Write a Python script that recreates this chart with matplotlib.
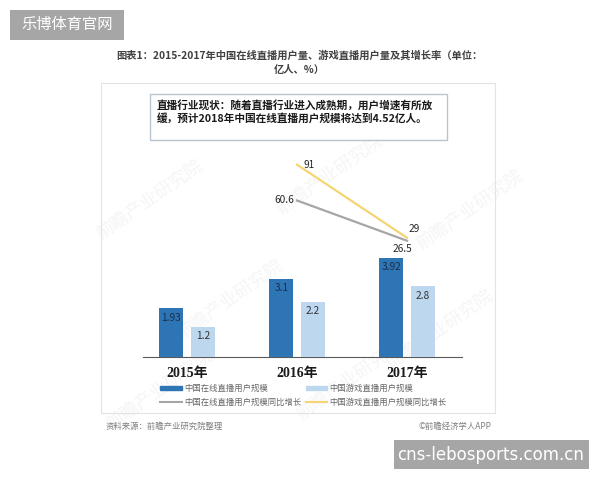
import matplotlib
matplotlib.use('Agg')
import matplotlib.pyplot as plt
from matplotlib.patches import Rectangle, Patch
from matplotlib.lines import Line2D
import numpy as np

plt.rcParams['font.family'] = ['Noto Sans CJK SC', 'DejaVu Sans']

years = ['2015年', '2016年', '2017年']
online_users = [1.93, 3.1, 3.92]
game_users = [1.2, 2.2, 2.8]
growth_years = [1, 2]
online_growth = [60.6, 26.5]
game_growth = [91, 29]

dark_blue = '#2e75b6'
light_blue = '#bdd7ee'
grey_line = '#a6a6a6'
yellow_line = '#f5d572'

W, H = 600, 480
fig = plt.figure(figsize=(6, 4.8), dpi=100)


def fx(px):
    return px / W


def fy(py):
    return 1 - py / H


# faint watermarks, behind everything
for (wx, wy) in [(150, 200), (330, 175), (230, 300), (440, 330), (160, 390), (470, 210), (350, 380)]:
    fig.text(fx(wx), fy(wy), '前瞻产业研究院', fontsize=13, color='#f5f5f5', rotation=35,
             ha='center', va='center', zorder=-5)

# outer frame of chart area
fig.add_artist(Rectangle((fx(101), fy(413)), fx(495) - fx(101), fy(83) - fy(413),
                         transform=fig.transFigure, fill=False, edgecolor='#e3e3e3', lw=0.8))

# axes
left, right, top, base = 143, 462, 150, 357
ax = fig.add_axes([fx(left), fy(base), fx(right) - fx(left), fy(top) - fy(base)])
ax.patch.set_alpha(0)
x = np.arange(len(years))
bw = 0.22
off = 0.143
ax.bar(x - off, online_users, bw, color=dark_blue, zorder=3)
ax.bar(x + off, game_users, bw, color=light_blue, zorder=3)
ax.set_xlim(-0.4, 2.5)
ax.set_ylim(0, (base - top) / 25.2)
for i in range(len(years)):
    ax.text(x[i] - off, online_users[i] - 0.17, f'{online_users[i]:g}', ha='center', va='top',
            fontsize=7.3, color='#1c2e4a', zorder=4)
    ax.text(x[i] + off, game_users[i] - 0.17, f'{game_users[i]:g}', ha='center', va='top',
            fontsize=7.3, color='#333333', zorder=4)
for s in ['top', 'right', 'left']:
    ax.spines[s].set_visible(False)
ax.spines['bottom'].set_color('#595959')
ax.spines['bottom'].set_linewidth(0.8)
ax.set_yticks([])
ax.set_xticks(x)
ax.set_xticklabels(years, fontsize=10, fontweight='bold', family=['Liberation Serif', 'Noto Sans CJK SC'],
                   color='#1a1a1a')
ax.tick_params(axis='x', length=0, pad=7)

ax2 = ax.twinx()
ax2.set_ylim(-85 / 1.18, (272 - top) / 1.18)
ax2.plot(growth_years, online_growth, color=grey_line, lw=1.6, zorder=5)
ax2.plot(growth_years, game_growth, color=yellow_line, lw=1.6, zorder=5)
ax2.set_yticks([])
for s in ['top', 'right', 'left', 'bottom']:
    ax2.spines[s].set_visible(False)
lbl = dict(fontsize=7.3, color='#262626')
ax2.text(growth_years[0] + 0.06, game_growth[0], f'{game_growth[0]:g}', ha='left', va='center', **lbl)
ax2.text(growth_years[0] - 0.03, online_growth[0], f'{online_growth[0]:g}', ha='right', va='center', **lbl)
ax2.text(growth_years[1] + 0.01, game_growth[1] + 3, f'{game_growth[1]:g}', ha='left', va='bottom', **lbl)
ax2.text(growth_years[1] - 0.04, online_growth[1] - 3, f'{online_growth[1]:g}', ha='center', va='top', **lbl)

# legend
handles = [Patch(color=dark_blue), Patch(color=light_blue),
           Line2D([], [], color=grey_line, lw=1.5), Line2D([], [], color=yellow_line, lw=1.5)]
labels = ['中国在线直播用户规模', '中国游戏直播用户规模', '中国在线直播用户规模同比增长', '中国游戏直播用户规模同比增长']
leg = fig.legend([handles[0], handles[2], handles[1], handles[3]],
                 [labels[0], labels[2], labels[1], labels[3]], ncol=2,
                 loc='upper left', bbox_to_anchor=(fx(160), fy(384)), frameon=False,
                 fontsize=6, handlelength=2.6, handleheight=0.5, handletextpad=0.3,
                 columnspacing=0.5, labelspacing=0.6, borderaxespad=0, borderpad=0)
for t in leg.get_texts():
    t.set_color('#666666')

# title
fig.text(fx(299), fy(56), '图表1：2015-2017年中国在线直播用户量、游戏直播用户量及其增长率（单位：',
         ha='center', va='center', fontsize=7.4, fontweight='bold', color='#404040')
fig.text(fx(299), fy(70), '亿人、%）', ha='center', va='center', fontsize=7.4,
         fontweight='bold', color='#404040')

# annotation box
fig.add_artist(Rectangle((fx(150), fy(140)), fx(447) - fx(150), fy(94) - fy(140),
                         transform=fig.transFigure, facecolor='white', edgecolor='#b8c4cf', lw=1.0))
fig.text(fx(157), fy(105), '直播行业现状：随着直播行业进入成熟期，用户增速有所放',
         ha='left', va='center', fontsize=7.7, fontweight='bold', color='#1a1a1a')
fig.text(fx(157), fy(118), '缓，预计2018年中国在线直播用户规模将达到4.52亿人。',
         ha='left', va='center', fontsize=7.7, fontweight='bold', color='#1a1a1a')

# source lines
fig.text(fx(106), fy(426), '资料来源：前瞻产业研究院整理', ha='left', va='center',
         fontsize=6, style='italic', color='#7f7f7f')
fig.text(fx(491), fy(426), '©前瞻经济学人APP', ha='right', va='center', fontsize=6, color='#7f7f7f')

# site badges
fig.add_artist(Rectangle((fx(10), fy(40)), fx(124) - fx(10), fy(10) - fy(40),
                         transform=fig.transFigure, facecolor='#a6a6a6', edgecolor='none'))
fig.text(fx(67), fy(25), '乐博体育官网', ha='center', va='center', fontsize=11, color='white')
fig.add_artist(Rectangle((fx(394), fy(469)), fx(589) - fx(394), fy(440) - fy(469),
                         transform=fig.transFigure, facecolor='#a6a6a6', edgecolor='none'))
fig.text(fx(491), fy(455), 'cns-lebosports.com.cn', ha='center', va='center', fontsize=12,
         color='white', family=['DejaVu Sans'])

fig.savefig('out.png', dpi=100, facecolor='white')
